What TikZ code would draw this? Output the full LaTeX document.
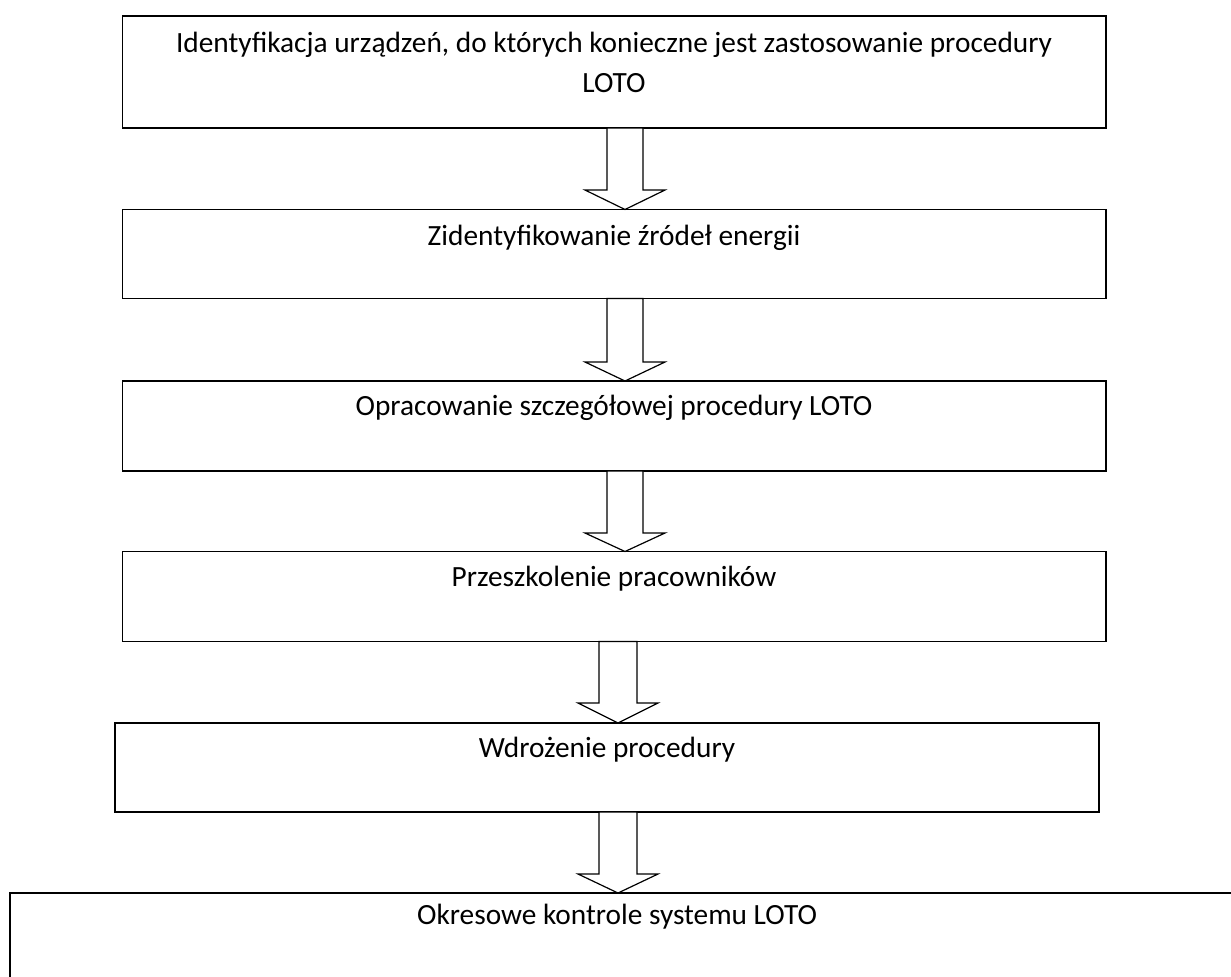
\documentclass[tikz,border=0pt]{standalone}
\usepackage{fontspec}
\setmainfont{Carlito}
\begin{document}
\begin{tikzpicture}[x=0.75pt,y=-0.75pt,
  box/.style={draw=black, line width=1.3pt, fill=white, inner sep=0pt, outer sep=0pt},
  lbl/.style={inner sep=0pt, anchor=base, align=center, font={\fontsize{22}{29.3}\selectfont}},
  blk/.style={draw=black, line width=0.9pt, fill=white, line join=miter}]
\useasboundingbox (0,0) rectangle (1231,976);
\clip (0,0) rectangle (1231,976);
\fill[white] (0,0) rectangle (1231,976);
% boxes
\node[box, minimum width=737.6pt, minimum height=84pt]    (b1) at (614.25,72) {};
\node[box, minimum width=737.6pt, minimum height=66.75pt] (b2) at (614.25,254) {};
\node[box, minimum width=737.6pt, minimum height=67.5pt]  (b3) at (614.25,426) {};
\node[box, minimum width=737.6pt, minimum height=67.5pt]  (b4) at (614.25,596.5) {};
\node[box, minimum width=738pt,   minimum height=66.75pt] (b5) at (607,767.5) {};
\node[box, minimum width=925pt,   minimum height=75pt]    (b6) at (627,943) {};
% labels (base anchor = baseline of the last line)
\node[lbl] (t1) at (614,92) {Identyfikacja urządzeń, do których konieczne jest zastosowanie procedury\\LOTO};
\node[lbl] (t2) at (614,245) {Zidentyfikowanie źródeł energii};
\node[lbl] (t3) at (614,415) {Opracowanie szczegółowej procedury LOTO};
\node[lbl] (t4) at (614,586) {Przeszkolenie pracowników};
\node[lbl] (t5) at (607,757) {Wdrożenie procedury};
\node[lbl] (t6) at (617,924) {Okresowe kontrole systemu LOTO};
% block arrows
\draw[blk] (607,0 |- b1.south) -- (607,190) -- (585,190) -- (625,0 |- b2.north) -- (665,190) -- (643,190) -- (643,0 |- b1.south) -- cycle;
\draw[blk] (607,0 |- b2.south) -- (607,362) -- (585,362) -- (625,0 |- b3.north) -- (665,362) -- (643,362) -- (643,0 |- b2.south) -- cycle;
\draw[blk] (607,0 |- b3.south) -- (607,533) -- (585,533) -- (625,0 |- b4.north) -- (665,533) -- (643,533) -- (643,0 |- b3.south) -- cycle;
\draw[blk] (599,0 |- b4.south) -- (599,703) -- (578,703) -- (618,0 |- b5.north) -- (658,703) -- (637,703) -- (637,0 |- b4.south) -- cycle;
\draw[blk] (599,0 |- b5.south) -- (599,874) -- (578,874) -- (618,0 |- b6.north) -- (658,874) -- (637,874) -- (637,0 |- b5.south) -- cycle;
\end{tikzpicture}
\end{document}
